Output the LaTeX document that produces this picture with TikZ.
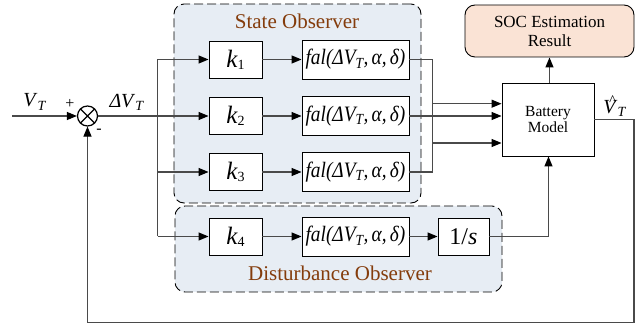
\documentclass[tikz,border=0pt]{standalone}
\usepackage{fontspec}
\setmainfont{Liberation Serif}
\usetikzlibrary{arrows.meta}
\definecolor{obsfill}{HTML}{E7EDF4}
\definecolor{socfill}{HTML}{FAE3D5}
\definecolor{titlebrown}{HTML}{843C0C}
\definecolor{wire}{HTML}{4A4A4A}
\newcommand{\fsz}[1]{\fontsize{#1}{#1}\selectfont}
\newcommand{\falexpr}{\scalebox{0.88}[1]{\fsz{22}\itshape fal(ΔV\textsubscript{T},\,α,\,δ)}}
\newcommand{\gain}[1]{\fsz{25}\itshape k\upshape\raisebox{-2pt}{\fsz{14}#1}}
\newcommand{\hatV}{\rlap{\hspace{5.5pt}\raisebox{8.5pt}{\fsz{15}\textasciicircum}}V}
\tikzset{
  blk/.style={draw=black, line width=0.9pt, fill=white, minimum width=53pt,
    minimum height=37pt, inner sep=0pt},
  falblk/.style={blk, minimum width=107pt, minimum height=39pt},
  group/.style={draw=black, dash pattern=on 9pt off 4pt, line width=0.9pt,
    rounded corners=10pt, fill=obsfill, inner sep=0pt},
  wirel/.style={draw=wire, line width=1.1pt},
  arr/.style={wirel, -{Triangle[length=10pt,width=8pt,color=black]}},
  grouptitle/.style={text=titlebrown, font=\fsz{21}},
  lbl/.style={inner sep=0pt, font=\fsz{20}}
}
\begin{document}
\begin{tikzpicture}[x=1pt,y=-1pt]
\useasboundingbox (0,0) rectangle (641,331);

% observer groups (background)
\node[group, minimum width=247pt, minimum height=199pt] (so) at (297.5,103.5) {};
\node[group, minimum width=327pt, minimum height=86pt] (dob) at (338.5,249) {};
\node[grouptitle] (sot) at (297,21) {State Observer};
\node[grouptitle] (dot) at (340,273) {Disturbance Observer};

% summing junction
\node[draw=black, line width=1.2pt, circle, minimum size=20pt, inner sep=0pt,
  path picture={\draw[line width=1.2pt] (path picture bounding box.north west) -- (path picture bounding box.south east)
    (path picture bounding box.north east) -- (path picture bounding box.south west);}] (sum) at (87.5,116) {};

% gains and fal blocks
\node[blk] (k1) at (235.5,59.5) {\gain{1}};
\node[blk] (k2) at (235.5,116) {\gain{2}};
\node[blk] (k3) at (235.5,172) {\gain{3}};
\node[blk] (k4) at (235.5,236.5) {\gain{4}};
\node[falblk] (f1) at (355.5,59.5) {\falexpr};
\node[falblk] (f2) at (355.5,116) {\falexpr};
\node[falblk] (f3) at (355.5,172) {\falexpr};
\node[falblk] (f4) at (355.5,236.5) {\falexpr};
\node[blk, minimum width=51pt] (integ) at (463.5,236.5) {\fsz{24}1/\textit{s}};

% plant and result
\node[blk, minimum width=92pt, minimum height=73pt, align=center, font=\fsz{15.5}] (bat) at (548,119.5) {Battery\\Model};
\node[draw=black, line width=0.9pt, fill=socfill, rounded corners=10pt,
  minimum width=169pt, minimum height=52pt, align=center, font=\fsz{17}] (soc) at (549.5,31) {SOC Estimation\\[2pt]Result};

% helper points
\coordinate (vin) at (12,116);
\coordinate (bustop) at (157.5,59.5);
\coordinate (busbot) at (157.5,236.5);
\coordinate (busmid) at (157.5,172);
\coordinate (j1) at (432.5,59.5);
\coordinate (j3) at (432.5,172);
\coordinate (jd) at (548.5,236.5);
\coordinate (fbr) at (634,119.5);
\coordinate (fbb) at (634,322.5);
\coordinate (fbl) at (87.5,322.5);

% signal flow
\draw[arr] (vin) -- (sum.west);
\draw[arr] (sum.east) -- (k2.west);
\draw[wirel] (bustop) -- (busbot);
\draw[arr] (bustop) -- (k1.west);
\draw[arr] (busmid) -- (k3.west);
\draw[arr] (busbot) -- (k4.west);
\draw[arr] (k1) -- (f1);
\draw[arr] (k2) -- (f2);
\draw[arr] (k3) -- (f3);
\draw[arr] (k4) -- (f4);
\draw[arr] (f4) -- (integ);
\draw[arr] (f1.east) -- (j1) |- ([yshift=-23.5pt]bat.west);
\draw[arr] (f2.east) -- (bat.west |- f2.east);
\draw[arr] (f3.east) -- (j3) |- ([yshift=15.8pt]bat.west);
\draw[arr] (integ.east) -- (jd) -- (bat.south -| jd);
\draw[arr] (bat.north -| soc.south) -- (soc.south);
\draw[arr] (bat.east) -- (fbr) -- (fbb) -- (fbl) -- (sum.south);

% signal labels
\node[lbl] (lvt) at (35,102) {\textit{V}\textsubscript{\textit{T}}};
\node[lbl] (ldv) at (127,102) {\textit{ΔV}\textsubscript{\textit{T}}};
\node[lbl] (lvh) at (615,106) {\textit{\hatV}\textsubscript{\textit{T}}};
\node[inner sep=0pt, font=\fsz{16}] (plus) at (70,104) {+};
\node[inner sep=0pt, font=\fsz{16}] (minus) at (99,131) {-};
\end{tikzpicture}
\end{document}
